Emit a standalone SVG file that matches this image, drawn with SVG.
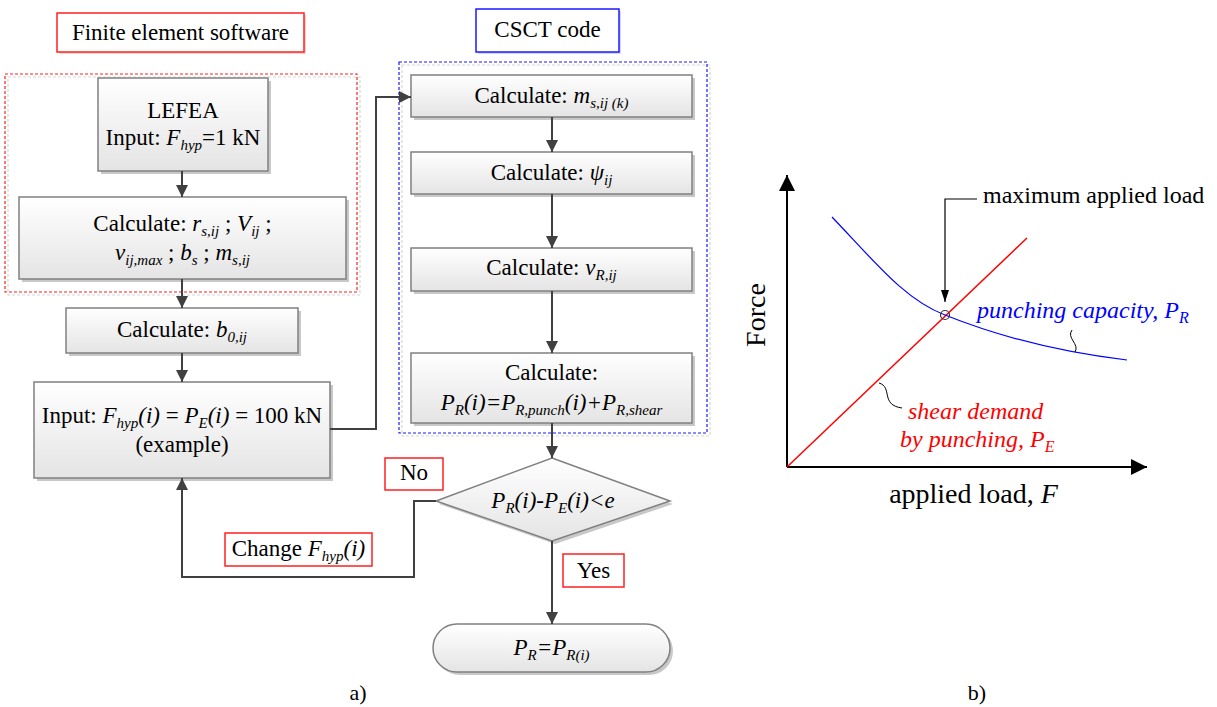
<svg xmlns="http://www.w3.org/2000/svg" width="1217" height="707" viewBox="0 0 1217 707">
<defs>
<linearGradient id="gbox" x1="0" y1="0" x2="0" y2="1">
<stop offset="0" stop-color="#ffffff"/>
<stop offset="1" stop-color="#e4e4e4"/>
</linearGradient>
<marker id="ah" viewBox="0 0 12 12" refX="12" refY="6" markerWidth="12" markerHeight="12" markerUnits="userSpaceOnUse" orient="auto">
<path d="M0,0 L12,6 L0,12 Z" fill="#404040"/>
</marker>
<marker id="axh" viewBox="0 0 16 16" refX="16" refY="8" markerWidth="16" markerHeight="16" markerUnits="userSpaceOnUse" orient="auto">
<path d="M0,0 L16,8 L0,16 Z" fill="#000"/>
</marker>
<marker id="sah" viewBox="0 0 12 8" refX="12" refY="4" markerWidth="12" markerHeight="8" markerUnits="userSpaceOnUse" orient="auto">
<path d="M0,0 L12,4 L0,8 Z" fill="#000"/>
</marker>
</defs>
<style>
text{font-family:"Liberation Serif","Times New Roman",serif;fill:#000;}
.t{font-size:23px;text-anchor:middle;}
.c{font-size:24px;}
.i{font-style:italic;}
.box{fill:url(#gbox);stroke:#808080;stroke-width:1.5;}
.sh{fill:#c8c8c8;stroke:none;}
.lab{fill:#fff;stroke-width:1.5;}
.red{stroke:#ff2020;}
.blue{stroke:#1a1aff;}
.conn{fill:none;stroke:#404040;stroke-width:2;marker-end:url(#ah);}
.dash{fill:none;stroke-width:1.2;stroke-dasharray:3,2;}
.dsh{fill:none;stroke:#d8d8d8;stroke-width:1.2;stroke-dasharray:3,2;}
</style>
<rect width="1217" height="707" fill="#fff"/>

<g id="fe-region">
<rect class="dsh" x="8" y="77" width="352" height="218"/>
<rect class="dash red" x="5" y="74" width="352" height="218"/>
</g>
<g id="csct-region">
<rect class="dsh" x="402" y="65" width="308" height="371"/>
<rect class="dash blue" x="399" y="62" width="308" height="371"/>
</g>

<g id="label-fe">
<rect x="59" y="15" width="247" height="39" fill="#f4d4d4"/>
<rect class="lab red" x="57" y="13" width="247" height="39"/>
<text class="t" x="180.5" y="40">Finite element software</text>
</g>
<g id="label-csct">
<rect x="478" y="11" width="143" height="43" fill="#d4d4f4"/>
<rect class="lab blue" x="476" y="9" width="143" height="43"/>
<text class="t" x="547.5" y="37">CSCT code</text>
</g>

<g id="n-lefea">
<rect class="sh" x="101" y="81" width="170" height="93"/>
<rect class="box" x="98" y="78" width="170" height="93"/>
<text class="t" x="183" y="118">LEFEA</text>
<text class="t" x="183" y="145">Input: <tspan class="i">F</tspan><tspan class="i" font-size="15" dy="5">hyp</tspan><tspan dy="-5">=1 kN</tspan></text>
</g>
<g id="n-calc1">
<rect class="sh" x="22" y="200" width="327" height="82"/>
<rect class="box" x="19" y="197" width="327" height="82"/>
<text class="t" x="182.5" y="231">Calculate: <tspan class="i">r</tspan><tspan class="i" font-size="15" dy="5">s,ij</tspan><tspan dy="-5"> ; </tspan><tspan class="i">V</tspan><tspan class="i" font-size="15" dy="5">ij</tspan><tspan dy="-5"> ;</tspan></text>
<text class="t" x="182.5" y="260"><tspan class="i">v</tspan><tspan class="i" font-size="15" dy="5">ij,max</tspan><tspan dy="-5"> ; </tspan><tspan class="i">b</tspan><tspan class="i" font-size="15" dy="5">s</tspan><tspan dy="-5"> ; </tspan><tspan class="i">m</tspan><tspan class="i" font-size="15" dy="5">s,ij</tspan></text>
</g>
<g id="n-b0">
<rect class="sh" x="69" y="311" width="232" height="45"/>
<rect class="box" x="66" y="308" width="232" height="45"/>
<text class="t" x="182" y="337">Calculate: <tspan class="i">b</tspan><tspan class="i" font-size="15" dy="5">0,ij</tspan></text>
</g>
<g id="n-input">
<rect class="sh" x="37" y="385" width="296" height="96"/>
<rect class="box" x="34" y="382" width="296" height="96"/>
<text class="t" x="182" y="423">Input: <tspan class="i">F</tspan><tspan class="i" font-size="15" dy="5">hyp</tspan><tspan class="i" dy="-5">(i)</tspan> = <tspan class="i">P</tspan><tspan class="i" font-size="15" dy="5">E</tspan><tspan class="i" dy="-5">(i)</tspan> = 100 kN</text>
<text class="t" x="182" y="452">(example)</text>
</g>

<g id="n-ms">
<rect class="sh" x="414" y="78" width="281" height="42"/>
<rect class="box" x="411" y="75" width="281" height="42"/>
<text class="t" x="551.5" y="103">Calculate: <tspan class="i">m</tspan><tspan class="i" font-size="15" dy="5">s,ij (k)</tspan></text>
</g>
<g id="n-psi">
<rect class="sh" x="414" y="155" width="281" height="42"/>
<rect class="box" x="411" y="152" width="281" height="42"/>
<text class="t" x="551.5" y="180">Calculate: <tspan class="i">ψ</tspan><tspan class="i" font-size="15" dy="5">ij</tspan></text>
</g>
<g id="n-vr">
<rect class="sh" x="414" y="251" width="281" height="43"/>
<rect class="box" x="411" y="248" width="281" height="43"/>
<text class="t" x="551.5" y="275">Calculate: <tspan class="i">v</tspan><tspan class="i" font-size="15" dy="5">R,ij</tspan></text>
</g>
<g id="n-pr">
<rect class="sh" x="414" y="356" width="281" height="70"/>
<rect class="box" x="411" y="353" width="281" height="70"/>
<text class="t" x="551.5" y="380">Calculate:</text>
<text class="t i" x="551.5" y="410">P<tspan font-size="15" dy="5">R</tspan><tspan dy="-5">(i)=P</tspan><tspan font-size="15" dy="5">R,punch</tspan><tspan dy="-5">(i)+P</tspan><tspan font-size="15" dy="5">R,shear</tspan></text>
</g>
<g id="n-decision">
<polygon points="555,461 673,504 555,544 439,504" fill="#c8c8c8"/>
<polygon points="552,458 670,501 552,541 436,501" fill="url(#gbox)" stroke="#808080" stroke-width="1.5"/>
<text class="t i" x="553" y="508">P<tspan font-size="15" dy="5">R</tspan><tspan dy="-5">(i)-P</tspan><tspan font-size="15" dy="5">E</tspan><tspan dy="-5">(i)&lt;e</tspan></text>
</g>
<g id="n-end">
<rect class="sh" x="436" y="627" width="237" height="48" rx="24"/>
<rect class="box" x="433" y="624" width="237" height="48" rx="24"/>
<text class="t i" x="551.5" y="655">P<tspan font-size="15" dy="5">R</tspan><tspan dy="-5">=P</tspan><tspan font-size="15" dy="5">R(i)</tspan></text>
</g>

<g id="label-no">
<rect class="lab red" x="385" y="458" width="58" height="32"/>
<text class="t" x="414" y="480">No</text>
</g>
<g id="label-change">
<rect class="lab red" x="225" y="533" width="147" height="33"/>
<text class="t" x="298.5" y="556">Change <tspan class="i">F</tspan><tspan class="i" font-size="15" dy="5">hyp</tspan><tspan class="i" dy="-5">(i)</tspan></text>
</g>
<g id="label-yes">
<rect class="lab red" x="563" y="554" width="61" height="33"/>
<text class="t" x="593.5" y="578">Yes</text>
</g>

<g id="connectors">
<path class="conn" d="M182,171 V197"/>
<path class="conn" d="M182,279 V308"/>
<path class="conn" d="M182,353 V382"/>
<path class="conn" d="M330,429 H376 V97 H411"/>
<path class="conn" d="M552,117 V152"/>
<path class="conn" d="M552,194 V248"/>
<path class="conn" d="M552,291 V353"/>
<path class="conn" d="M552,423 V458"/>
<path class="conn" d="M436,501 H414 V577 H182 V478"/>
<path class="conn" d="M552,541 V624"/>
</g>

<g id="chart">
<path d="M787,467 V175" stroke="#000" stroke-width="2" fill="none" marker-end="url(#axh)"/>
<path d="M787,467 H1147" stroke="#000" stroke-width="2" fill="none" marker-end="url(#axh)"/>
<path d="M787,467 L1027,238" stroke="#ff0000" stroke-width="1.5" fill="none"/>
<path d="M832,217 C875,262 905,300 945,315 C990,333 1050,351 1127,360" stroke="#0000ff" stroke-width="1.2" fill="none"/>
<circle cx="945" cy="315" r="4.5" fill="none" stroke="#333" stroke-width="1.2"/>
<path d="M977,199 H945 V302" stroke="#000" stroke-width="1.2" fill="none" marker-end="url(#sah)"/>
<path d="M1072,330 C1066,338 1080,344 1075,352" stroke="#000" stroke-width="1" fill="none"/>
<path d="M879,383 C893,387 880,405 902,408" stroke="#000" stroke-width="1" fill="none"/>
<text class="c" x="983" y="203">maximum applied load</text>
<text class="c i" x="977" y="318" fill="#0000ff" style="fill:#0000ff">punching capacity, P<tspan font-size="16" dy="5">R</tspan></text>
<text class="c i" x="908" y="419" style="fill:#ff0000">shear demand</text>
<text class="c i" x="900" y="447" style="fill:#ff0000">by punching, P<tspan font-size="16" dy="5">E</tspan></text>
<text transform="translate(765,315) rotate(-90)" font-size="28" text-anchor="middle">Force</text>
<text x="973.5" y="503" font-size="28" text-anchor="middle">applied load, <tspan class="i">F</tspan></text>
</g>

<g id="captions">
<text x="358" y="700" font-size="22" text-anchor="middle">a)</text>
<text x="977" y="700" font-size="22" text-anchor="middle">b)</text>
</g>
</svg>
